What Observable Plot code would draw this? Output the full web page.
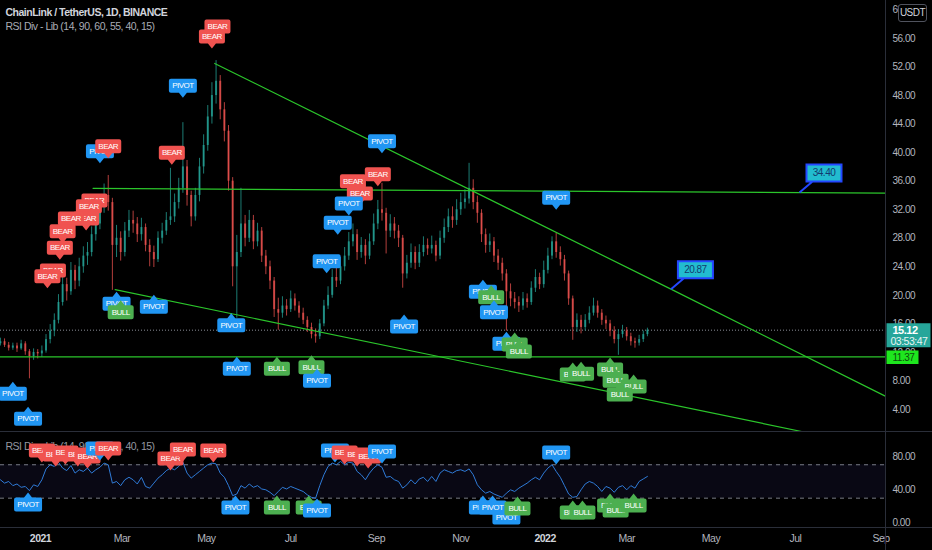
<!DOCTYPE html>
<html><head><meta charset="utf-8">
<script src="https://cdn.jsdelivr.net/npm/d3@7"></script>
<script src="https://cdn.jsdelivr.net/npm/@observablehq/plot@0.6"></script>
<style>
html,body{margin:0;padding:0;background:#000;}
#chart{position:relative;width:932px;height:550px;background:#000;overflow:hidden;}
#chart svg{display:block;}
.sep{position:absolute;background:#2a2e39;}
#usdt{position:absolute;left:898px;top:4px;width:27px;height:16px;border:1px solid #50535e;border-radius:3px;background:#000;color:#d1d4dc;font:10px "Liberation Sans",sans-serif;letter-spacing:-0.5px;text-align:center;line-height:16px;}
</style></head><body><div id="chart"></div><script>
const title = "ChainLink / TetherUS, 1D, BINANCE";
const subtitle = "RSI Div - Lib (14, 90, 60, 55, 40, 15)";
const rsiTitle = "RSI Div - Lib (14, 90, 60, 55, 40, 15)";

// daily-ish candles sampled every 3 days from 2020-12-03
const candleStart = "2020-12-03";
const candleStepDays = 3;
const firstOpen = 13.2;
const closes = [13.5,13.0,12.6,12.9,12.5,13.2,12.1,11.4,12.0,11.8,
 12.2,13.8,15.0,16.5,19.0,21.5,20.5,23.5,22.0,24.0,
 25.5,26.0,28.5,30.0,32.5,34.0,33.0,27.0,28.0,26.0,
 29.0,30.5,30.0,28.5,29.5,27.0,26.0,25.0,28.0,29.0,
 30.5,31.0,33.0,35.0,38.0,34.0,31.0,34.0,38.0,41.0,
 45.0,48.0,50.0,46.0,43.0,36.0,24.0,26.0,30.0,28.0,
 30.5,27.5,29.0,25.5,24.0,22.0,18.0,17.5,18.5,18.0,
 19.5,18.5,17.5,16.5,15.5,14.5,14.2,16.0,18.5,20.0,
 22.5,22.0,24.0,25.5,27.5,28.5,26.0,27.0,25.5,27.5,
 30.0,32.0,31.5,29.0,30.0,29.0,28.0,23.0,24.5,26.0,
 24.5,26.0,27.0,26.5,27.0,25.5,28.0,29.5,31.0,30.5,
 32.0,33.0,33.5,35.0,33.0,31.5,28.5,27.0,27.5,25.5,
 24.5,23.0,20.5,19.5,19.0,18.5,19.5,19.0,21.0,22.5,
 21.5,23.5,25.5,27.5,26.0,25.0,23.0,19.5,15.5,16.5,
 15.5,16.5,17.5,18.5,17.5,16.5,16.0,15.0,13.8,14.5,
 15.0,14.2,13.5,13.3,13.8,14.5,15.12];
const highs = [14.0,13.9,13.4,13.3,13.3,13.7,13.5,12.4,12.5,12.4,
 12.9,14.5,15.9,17.4,20.1,22.8,22.4,24.6,24.2,25.2,
 26.8,27.4,29.6,31.5,33.8,35.6,36.8,33.6,29.8,28.9,
 30.2,31.9,31.8,30.9,30.8,30.0,27.8,26.9,28.9,30.1,
 31.6,37.8,34.2,36.4,44.2,38.9,34.6,35.0,39.2,42.5,
 46.6,49.8,52.9,50.8,47.0,43.8,36.5,28.4,35.0,31.2,
 31.9,31.2,30.1,29.5,26.3,24.8,22.5,19.6,19.8,19.4,
 20.6,20.2,19.1,18.2,17.0,16.1,15.3,16.6,19.3,21.2,
 23.6,23.8,25.3,26.7,28.8,30.0,29.2,28.1,27.8,28.6,
 31.4,33.3,35.7,32.2,31.3,30.9,29.8,28.4,25.6,27.2,
 26.8,27.1,28.2,27.9,28.3,27.6,29.0,30.7,32.1,32.4,
 33.4,34.3,34.8,38.5,36.2,33.9,32.0,29.3,28.6,28.1,
 26.4,25.2,23.6,21.6,20.4,19.8,20.4,20.2,21.9,23.6,
 23.1,24.8,26.6,28.2,28.7,26.8,25.6,23.4,19.9,17.4,
 17.2,17.3,18.4,19.6,19.2,18.0,17.1,16.5,15.6,15.2,
 15.8,15.5,14.7,14.0,14.4,15.0,15.4];
const lows = [12.9,12.7,12.2,12.3,12.0,12.3,11.6,8.3,10.9,11.1,
 11.3,11.9,13.2,14.2,16.0,18.5,19.2,20.0,20.8,21.2,
 23.1,24.2,25.4,27.6,29.2,31.5,31.8,20.7,25.3,24.8,
 25.4,28.1,28.7,27.4,27.6,26.1,24.0,23.9,24.6,27.2,
 28.4,29.8,30.2,32.1,34.3,32.5,29.6,30.4,33.1,37.0,
 40.2,44.0,46.8,44.6,41.5,34.6,21.2,16.8,25.3,26.8,
 27.4,26.4,26.8,24.6,22.9,20.8,16.9,15.1,16.8,17.1,
 17.6,17.8,16.8,15.9,14.8,13.9,13.3,13.8,15.6,18.0,
 19.6,21.1,21.5,23.4,24.9,26.8,24.9,25.2,24.3,25.0,
 27.0,29.2,30.4,25.8,28.1,27.9,26.7,21.0,22.3,23.8,
 23.6,23.9,25.4,25.6,25.8,24.7,25.0,27.3,28.8,29.4,
 29.8,31.2,32.1,32.8,32.0,30.1,27.4,25.9,26.0,24.6,
 23.5,22.0,15.0,18.4,18.1,17.6,17.9,18.2,18.6,20.4,
 20.8,21.0,23.0,25.0,25.2,24.1,22.0,18.6,13.7,14.8,
 14.6,15.0,16.0,17.1,16.8,15.8,15.2,14.2,13.2,11.6,
 14.0,13.6,12.9,12.6,12.9,13.4,14.2];
const rsiValues = [52,48,50,45,47,43,44,39,46,44,
 52,65,70,68,73,66,63,69,60,64,
 62,66,60,64,67,72,70,48,50,45,
 52,55,52,47,55,44,42,48,54,58,
 63,66,64,68,73,60,54,58,62,66,
 70,72,71,60,55,45,33,35,45,42,
 47,43,45,41,40,37,33,38,43,41,
 44,42,40,38,34,31,30,45,58,68,
 72,70,74,70,73,72,62,58,52,60,
 66,70,67,55,56,52,50,42,46,52,
 47,53,55,50,56,50,60,64,62,60,
 63,64,62,65,58,46,40,36,38,35,
 33,31,36,40,38,42,45,48,52,55,
 52,60,66,70,62,55,45,35,31,32,
 40,47,50,48,44,38,44,42,37,43,
 45,40,45,42,50,53,56];

const lastPrice = 15.12;
const countdown = "03:53:47";
const supportLevel = 11.37;
const priceTicks = [4,8,12,16,20,24,28,32,36,40,44,48,52,56,60];
const rsiTicks = [0,40,80];
const rsiBands = [30,70];
const timeTicks = ["2021-01-01","2021-03-01","2021-05-01","2021-07-01","2021-09-01","2021-11-01","2022-01-01","2022-03-01","2022-05-01","2022-07-01","2022-09-01"];
const timeTickLabels = ["2021","Mar","May","Jul","Sep","Nov","2022","Mar","May","Jul","Sep"];

const resistanceLine = [["2021-02-08",35.0],["2022-09-10",34.32]];
const upperTrend = [["2021-05-07",52.5],["2022-04-02",20.87],["2022-09-10",5.3]];
const lowerTrend = [["2021-02-24",20.8],["2022-07-09",0.78],["2022-09-10",-1.7]];
const priceTags = [["2022-07-04",34.40,"34.40"],["2022-04-02",20.87,"20.87"]];

const priceLabels = [
["2021-05-09",56.0,"BEAR","down"],["2021-05-05",54.6,"BEAR","down"],
["2021-04-14",47.7,"PIVOT","down"],["2021-02-13",38.5,"PIVOT","down"],
["2021-02-19",39.2,"BEAR","down"],["2021-04-06",38.3,"BEAR","down"],
["2021-09-05",39.9,"PIVOT","down"],["2021-09-02",35.3,"BEAR","down"],
["2021-08-15",34.3,"BEAR","down"],["2021-08-20",32.6,"BEAR","down"],
["2021-08-12",31.2,"PIVOT","down"],["2021-08-04",28.5,"PIVOT","down"],
["2021-07-27",23.1,"PIVOT","down"],["2021-02-09",31.6,"BEAR","down"],
["2021-02-05",30.8,"BEAR","down"],["2021-02-03",29.1,"BEAR","down"],
["2021-01-23",29.1,"BEAR","down"],["2021-01-17",27.3,"BEAR","down"],
["2021-01-15",25.0,"BEAR","down"],["2021-01-10",21.8,"BEAR","down"],
["2021-01-06",21.0,"BEAR","down"],
["2021-02-25",20.5,"PIVOT","up"],["2021-02-28",19.3,"BULL","up"],
["2021-03-24",20.1,"PIVOT","up"],["2021-05-19",17.5,"PIVOT","up"],
["2021-05-23",11.4,"PIVOT","up"],["2021-06-21",11.4,"BULL","up"],
["2021-07-16",11.6,"BULL","up"],["2021-07-20",9.7,"PIVOT","up"],
["2021-09-21",17.3,"PIVOT","up"],["2020-12-12",7.9,"PIVOT","up"],
["2020-12-23",4.4,"PIVOT","up"],["2022-01-09",32.0,"PIVOT","down"],
["2021-11-17",22.2,"PIVOT","up"],["2021-11-23",21.4,"BULL","up"],
["2021-11-25",19.3,"PIVOT","up"],["2021-12-04",14.9,"PIVOT","up"],
["2021-12-10",14.8,"BULL","up"],["2021-12-13",13.8,"BULL","up"],
["2022-01-21",10.6,"BULL","up"],["2022-01-27",10.7,"BULL","up"],
["2022-02-17",11.3,"BULL","up"],["2022-02-21",9.7,"BULL","up"],
["2022-03-06",8.9,"BULL","up"],["2022-02-24",7.8,"BULL","up"]
];
const rsiLabels = [
["2020-12-23",36.8,"PIVOT","up"],["2021-01-02",72.7,"BEAR","down"],
["2021-01-12",67.9,"BEAR","down"],["2021-01-19",70.3,"BEAR","down"],
["2021-01-28",67.9,"BEAR","down"],["2021-02-04",65.6,"BEAR","down"],
["2021-02-13",75.1,"PIVOT","down"],["2021-02-19",75.1,"BEAR","down"],
["2021-04-05",63.1,"BEAR","down"],["2021-04-14",73.9,"BEAR","down"],
["2021-05-06",72.7,"BEAR","down"],["2021-05-22",33.2,"PIVOT","up"],
["2021-06-21",33.2,"BULL","up"],["2021-07-14",33.2,"BULL","up"],
["2021-07-20",29.6,"PIVOT","up"],["2021-08-02",72.7,"PIVOT","down"],
["2021-08-09",70.3,"BEAR","down"],["2021-08-18",67.9,"BEAR","down"],
["2021-08-26",65.6,"BEAR","down"],["2021-09-05",71.5,"PIVOT","down"],
["2022-01-09",70.3,"PIVOT","down"],["2021-11-17",33.2,"PIVOT","up"],
["2021-11-24",33.2,"PIVOT","up"],["2021-12-04",21.2,"PIVOT","up"],
["2021-12-12",32.0,"BULL","up"],["2022-01-21",27.2,"BULL","up"],
["2022-01-28",27.2,"BULL","up"],["2022-02-17",35.6,"BULL","up"],
["2022-02-21",29.6,"BULL","up"],["2022-03-06",35.6,"BULL","up"]
];

// ---------- build ----------
const DAY = 864e5;
const FONT = '"Liberation Sans",Arial,sans-serif';
const xDomain = [new Date("2020-12-03T01:40Z"), new Date("2022-09-04T05:00Z")];
const UP = "#26a69a", DOWN = "#ef5350", GREEN = "#2bc52b";
const labelColor = {PIVOT:"#2196f3", BEAR:"#f05350", BULL:"#4caf50"};
const labelWidth = {PIVOT:28, BEAR:26, BULL:26};

const t0 = Date.parse(candleStart + "T00:00Z");
const candles = closes.map((c, i) => ({
  date: new Date(t0 + i * candleStepDays * DAY),
  open: i ? closes[i - 1] : firstOpen, close: c, high: highs[i], low: lows[i]
}));
const rsiData = rsiValues.map((v, i) => ({date: candles[i].date, v}));
const toPts = a => a.map(([d, v]) => ({date: new Date(d), v}));
const toLabels = a => a.map(([d, v, text, dir]) => ({date: new Date(d), v, text, dir}));

function bubble(w, dir) {
  const h = 14, t = 5, r = 2, hw = w / 2, s = dir === "down" ? -1 : 1;
  return {draw(ctx) {
    const yn = s * t, yf = s * (t + h);
    ctx.moveTo(0, 0);
    ctx.lineTo(4, yn);
    ctx.lineTo(hw - r, yn);
    ctx.arcTo(hw, yn, hw, yn + s * r, r);
    ctx.lineTo(hw, yf - s * r);
    ctx.arcTo(hw, yf, hw - r, yf, r);
    ctx.lineTo(-hw + r, yf);
    ctx.arcTo(-hw, yf, -hw, yf - s * r, r);
    ctx.lineTo(-hw, yn + s * r);
    ctx.arcTo(-hw, yn, -hw + r, yn, r);
    ctx.lineTo(-4, yn);
    ctx.closePath();
  }};
}
function labelMarks(list) {
  return toLabels(list).flatMap(l => [
    Plot.dot([l], {x: "date", y: "v", symbol: bubble(labelWidth[l.text], l.dir), fill: labelColor[l.text], stroke: "none"}),
    Plot.text([l], {x: "date", y: "v", text: "text", dy: l.dir === "down" ? -12 : 12, fill: "#fff", fontSize: 8})
  ]);
}
const calloutSymbol = {draw(ctx) {
  ctx.moveTo(0, 0); ctx.lineTo(13, -11);
  ctx.moveTo(7, -11); ctx.lineTo(42, -11); ctx.lineTo(42, -28); ctx.lineTo(7, -28); ctx.closePath();
}};
function boxSymbol(x0, x1, y0, y1) {
  return {draw(ctx) { ctx.moveTo(x0, y0); ctx.lineTo(x1, y0); ctx.lineTo(x1, y1); ctx.lineTo(x0, y1); ctx.closePath(); }};
}
const candleColor = d => d.close >= d.open ? UP : DOWN;
const style = {background: "#000", color: "#b2b5be", fontFamily: FONT, fontSize: "10px", letterSpacing: "-0.5px", display: "block"};
const edge = () => xDomain[1];

const priceChart = Plot.plot({
  width: 932, height: 432, marginTop: 0, marginBottom: 0, marginLeft: 0, marginRight: 47,
  style,
  x: {type: "utc", domain: xDomain, axis: null},
  y: {domain: [0.78, 61.32], axis: null},
  marks: [
    Plot.text([title], {frameAnchor: "top-left", text: d => d, dx: 5, dy: 8, lineAnchor: "top", textAnchor: "start", fill: "#d1d4dc", fontWeight: "bold", fontSize: 10.5}),
    Plot.text([subtitle], {frameAnchor: "top-left", text: d => d, dx: 5, dy: 22, lineAnchor: "top", textAnchor: "start", fill: "#a9acb5", fontSize: 10.5}),
    Plot.ruleY([lastPrice], {stroke: "#8a8d96", strokeDasharray: "1,2"}),
    Plot.ruleX(candles, {x: "date", y1: "low", y2: "high", stroke: candleColor, strokeWidth: 1, strokeOpacity: 0.75}),
    Plot.ruleX(candles, {x: "date", y1: "open", y2: "close", stroke: candleColor, strokeWidth: 2, strokeOpacity: 0.75}),
    Plot.ruleY([supportLevel], {stroke: GREEN, strokeWidth: 1.2}),
    Plot.line(toPts(resistanceLine), {x: "date", y: "v", stroke: GREEN, strokeWidth: 1.2, clip: true}),
    Plot.line(toPts(upperTrend), {x: "date", y: "v", stroke: GREEN, strokeWidth: 1.2, clip: true}),
    Plot.line(toPts(lowerTrend), {x: "date", y: "v", stroke: GREEN, strokeWidth: 1.2, clip: true}),
    ...labelMarks(priceLabels),
    Plot.dot(priceTags.map(([d, v, t]) => ({date: new Date(d), v, t})), {x: "date", y: "v", symbol: calloutSymbol, fill: "#22bccf", stroke: "#2447ff", strokeWidth: 2}),
    Plot.text(priceTags.map(([d, v, t]) => ({date: new Date(d), v, t})), {x: "date", y: "v", text: "t", dx: 24.5, dy: -19.5, fill: "#123a6e", fontSize: 10}),
    Plot.axisY({anchor: "right", ticks: priceTicks, tickFormat: d => d.toFixed(2), tickSize: 0, tickPadding: 7, label: null}),
    Plot.dot([lastPrice], {x: edge, y: d => d, symbol: boxSymbol(1, 45, -7, 17), fill: "#26a69a", stroke: "none"}),
    Plot.text([lastPrice], {x: edge, y: d => d, text: d => d.toFixed(2), dx: 7, dy: 0.5, textAnchor: "start", fill: "#fff", fontWeight: "bold", fontSize: 11}),
    Plot.text([lastPrice], {x: edge, y: d => d, text: () => countdown, dx: 5, dy: 11.5, textAnchor: "start", fill: "#e8f5f3", fontSize: 10.5}),
    Plot.dot([supportLevel], {x: edge, y: d => d, symbol: boxSymbol(1, 33, -6.5, 7), fill: "#1ee61e", stroke: "none"}),
    Plot.text([supportLevel], {x: edge, y: d => d, text: d => d.toFixed(2), dx: 7, dy: 0.5, textAnchor: "start", fill: "#0d4d0d", fontSize: 10})
  ]
});

const tickLabel = new Map(timeTicks.map((t, i) => [+new Date(t), timeTickLabels[i]]));
const isYear = t => /^\d{4}$/.test(tickLabel.get(+new Date(t)));
const rsiChart = Plot.plot({
  width: 932, height: 118, marginTop: 0, marginBottom: 22, marginLeft: 0, marginRight: 47,
  style,
  x: {type: "utc", domain: xDomain, axis: null},
  y: {domain: [-6.3, 108.6], axis: null},
  marks: [
    Plot.rect([rsiBands], {x1: () => xDomain[0], x2: () => xDomain[1], y1: d => d[0], y2: d => d[1], fill: "#3b2f7a", fillOpacity: 0.16}),
    Plot.ruleY(rsiBands, {stroke: "#787b86", strokeDasharray: "4,4"}),
    Plot.text([rsiTitle], {frameAnchor: "top-left", text: d => d, dx: 5, dy: 10, lineAnchor: "top", textAnchor: "start", fill: "#9598a1", fontSize: 10.5}),
    Plot.line(rsiData, {x: "date", y: "v", stroke: "#2f7bd8", strokeWidth: 1}),
    ...labelMarks(rsiLabels),
    Plot.axisY({anchor: "right", ticks: rsiTicks, tickFormat: d => d.toFixed(2), tickSize: 0, tickPadding: 7, label: null}),
    Plot.axisX({ticks: timeTicks.filter(t => !isYear(t)).map(t => new Date(t)), tickFormat: d => tickLabel.get(+d), tickSize: 0, tickPadding: 6, fontSize: 10.5, label: null}),
    Plot.axisX({ticks: timeTicks.filter(isYear).map(t => new Date(t)), tickFormat: d => tickLabel.get(+d), tickSize: 0, tickPadding: 6, fontSize: 10.5, fontWeight: "bold", fill: "#d1d4dc", label: null})
  ]
});

const root = document.getElementById("chart");
root.appendChild(priceChart);
root.appendChild(rsiChart);
for (const [l, t, w, h] of [[885, 0, 1, 550], [0, 431, 932, 1], [0, 527, 932, 1]]) {
  const d = document.createElement("div");
  d.className = "sep";
  Object.assign(d.style, {left: l + "px", top: t + "px", width: w + "px", height: h + "px"});
  root.appendChild(d);
}
const u = document.createElement("div");
u.id = "usdt"; u.textContent = "USDT";
root.appendChild(u);
</script></body></html>
